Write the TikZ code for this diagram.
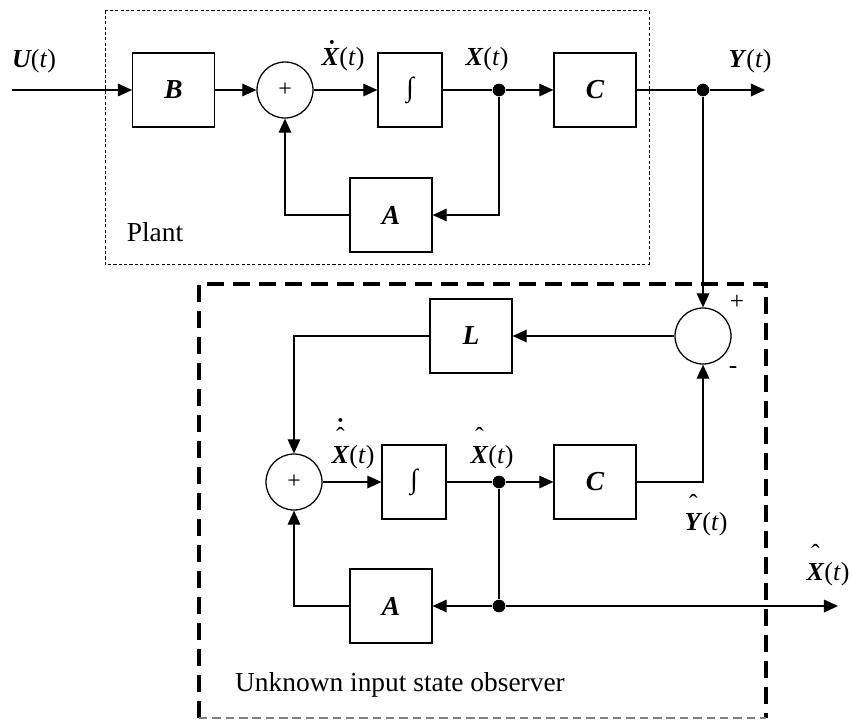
\documentclass[tikz,border=0pt]{standalone}
\usepackage{fontspec}
\setmainfont{Liberation Serif}
\usetikzlibrary{arrows.meta,positioning}

\newcommand{\bX}{\textbf{\textit{X}}}
\newcommand{\bY}{\textbf{\textit{Y}}}
\newcommand{\oft}{(\textit{t})}
\newcommand{\hatted}[1]{\leavevmode\hbox{\ooalign{#1\cr\hidewidth\raisebox{12.5pt}{ˆ}\hidewidth\cr}}}
\newcommand{\hatdotted}[1]{\leavevmode\hbox{\ooalign{#1\cr\hidewidth\raisebox{12.5pt}{ˆ}\hidewidth\cr\hidewidth\raisebox{19pt}{\textbf{˙}}\hidewidth\cr}}}
\newcommand{\dotover}[1]{\leavevmode\hbox{\ooalign{#1\cr\hidewidth\kern2pt\raisebox{5pt}{\textbf{˙}}\hidewidth\cr}}}

\begin{document}
\begin{tikzpicture}[
    blk/.style={rectangle, draw, line width=0.9pt, minimum width=2.05cm, minimum height=1.85cm, font=\fontsize{19.5}{23}\selectfont\bfseries\itshape},
    intblk/.style={blk, minimum width=1.6cm, font=\fontsize{19.5}{23}\selectfont},
    sumc/.style={circle, draw, line width=0.9pt, minimum size=1.4cm, inner sep=0pt, font=\fontsize{17}{17}\selectfont},
    jn/.style={circle, fill, minimum size=9pt, inner sep=0pt},
    lbl/.style={font=\fontsize{18.5}{22}\selectfont, inner sep=0pt},
    txt/.style={font=\fontsize{19.5}{23}\selectfont, inner sep=0pt},
    sgn/.style={font=\fontsize{18}{18}\selectfont, inner sep=0pt},
    wire/.style={line width=0.9pt},
    sig/.style={wire, -{Triangle[length=10pt,width=9pt]}},
    plantbox/.style={line width=0.6pt, dash pattern=on 2.2pt off 1.6pt},
    obsbox/.style={line width=2.2pt, dash pattern=on 12pt off 6.5pt},
    obsbottom/.style={line width=0.9pt, gray, dash pattern=on 6pt off 3.5pt}]

    \useasboundingbox (0,0) rectangle (21.3,-17.975);

    % Plant
    \draw[plantbox] (2.625,-0.267) rectangle (16.225,-6.6);
    \node[txt] (plantlbl) at (3.875,-5.8) {Plant};

    \coordinate (uin) at (0.3,-2.25);
    \node[blk] (bmat) at (4.34,-2.25) {B};
    \node[sumc] (sum1) at (7.125,-2.25) {+};
    \node[intblk] (int1) at (10.25,-2.25) {∫};
    \node[jn] (xjn) at (12.475,-2.25) {};
    \node[blk] (cmat1) at (14.875,-2.25) {C};
    \node[jn] (yjn) at (17.575,-2.25) {};
    \coordinate (yout) at (19.125,-2.25);
    \node[blk] (amat1) at (9.775,-5.375) {A};

    \node[lbl, anchor=base] (ulbl) at (0.85,-1.68) {\bfseries\itshape U\mdseries\upshape\oft};
    \node[lbl, anchor=base] (xdlbl) at (8.575,-1.63) {\dotover{\bX}\oft};
    \node[lbl, anchor=base] (xlbl) at (12.175,-1.63) {\bX\oft};
    \node[lbl, anchor=base] (ylbl) at (18.75,-1.68) {\bY\oft};

    \draw[sig] (uin) -- (bmat);
    \draw[sig] (bmat) -- (sum1);
    \draw[sig] (sum1) -- (int1);
    \draw[wire] (int1) -- (xjn);
    \draw[sig] (xjn) -- (cmat1);
    \draw[wire] (cmat1) -- (yjn);
    \draw[sig] (yjn) -- (yout);
    \draw[sig] (xjn) |- (amat1);
    \draw[sig] (amat1) -| (sum1);

    % Observer
    \draw[obsbox] (4.975,-17.95) -- (4.975,-7.1) -- (19.15,-7.1) -- (19.15,-17.95);
    \draw[obsbottom] (4.975,-17.95) -- (19.15,-17.95);
    \node[txt] (obslbl) at (10.0,-17.125) {Unknown input state observer};

    \node[sumc] (sum2) at (17.575,-8.4) {};
    \node[blk] (lmat) at (11.775,-8.4) {L};
    \node[sumc] (sum3) at (7.35,-12.05) {+};
    \node[intblk] (int2) at (10.35,-12.05) {∫};
    \node[jn] (xhjn) at (12.475,-12.05) {};
    \node[blk] (cmat2) at (14.875,-12.05) {C};
    \node[jn] (outjn) at (12.475,-15.15) {};
    \node[blk] (amat2) at (9.775,-15.15) {A};
    \coordinate (xhout) at (20.95,-15.15);

    \node[sgn] (plus) at (18.425,-7.55) {+};
    \node[sgn] (minus) at (18.325,-9.25) {-};
    \node[lbl, anchor=base] (xhdlbl) at (8.825,-11.58) {\hatdotted{\bX}\oft};
    \node[lbl, anchor=base] (xhlbl) at (12.3,-11.58) {\hatted{\bX}\oft};
    \node[lbl, anchor=base] (yhlbl) at (17.65,-13.25) {\hatted{\bY}\oft};
    \node[lbl, anchor=base] (xholbl) at (20.7,-14.5) {\hatted{\bX}\oft};

    \draw[sig] (yjn) -- (sum2);
    \draw[sig] (sum2) -- (lmat);
    \draw[sig] (lmat) -| (sum3);
    \draw[sig] (sum3) -- (int2);
    \draw[wire] (int2) -- (xhjn);
    \draw[sig] (xhjn) -- (cmat2);
    \draw[sig] (cmat2) -| (sum2);
    \draw[wire] (xhjn) -- (outjn);
    \draw[sig] (outjn) -- (amat2);
    \draw[sig] (outjn) -- (xhout);
    \draw[sig] (amat2) -| (sum3);
\end{tikzpicture}
\end{document}
